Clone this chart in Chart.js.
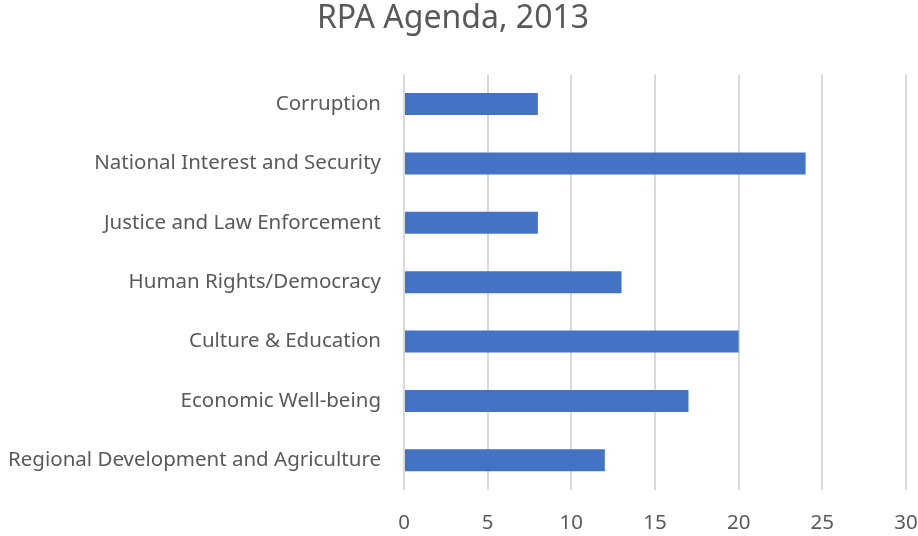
<!DOCTYPE html>
<html>
<head>
<meta charset="utf-8">
<script src="https://cdn.jsdelivr.net/npm/chart.js@4/dist/chart.umd.min.js"></script>
<style>
  html, body { margin: 0; padding: 0; background: #fff; }
  #wrap { width: 918px; height: 536px; }
</style>
</head>
<body>
<div id="wrap"><canvas id="agenda-chart" width="918" height="536"></canvas></div>
<script>
const categories = [
    'Corruption',
    'National Interest and Security',
    'Justice and Law Enforcement',
    'Human Rights/Democracy',
    'Culture & Education',
    'Economic Well-being',
    'Regional Development and Agriculture'
];
const counts = [8, 24, 8, 13, 20, 17, 12];
const xTicks = [0, 5, 10, 15, 20, 25, 30];

const labelFont = { family: "'Noto Sans', sans-serif", size: 20.5 };
const textColor = '#595959';

const ctx = document.getElementById('agenda-chart').getContext('2d');

new Chart(ctx, {
    type: 'bar',
    data: {
        labels: categories,
        datasets: [{
            data: counts,
            backgroundColor: '#4472c4',
            barPercentage: 0.37,
            categoryPercentage: 1.0
        }]
    },
    options: {
        indexAxis: 'y',
        responsive: false,
        animation: false,
        layout: { padding: { top: 0, right: 12, bottom: 0, left: 0 } },
        plugins: {
            legend: { display: false },
            tooltip: { enabled: false },
            title: {
                display: true,
                text: 'RPA Agenda, 2013',
                color: textColor,
                font: { family: "'Noto Sans', sans-serif", size: 32, weight: 'normal' },
                padding: { top: 0, bottom: 36 }
            }
        },
        scales: {
            x: {
                min: 0,
                max: 30,
                afterBuildTicks: function(scale) {
                    scale.ticks = xTicks.map(v => ({ value: v }));
                },
                afterFit: function(scale) {
                    // keep the plot edge fixed; the "30" label may hang past it
                    scale.height = 46;
                    scale.paddingLeft = 0;
                    scale.paddingRight = 0;
                },
                grid: { color: '#d9d9d9', lineWidth: 2, drawTicks: false },
                border: { display: false },
                ticks: { color: textColor, font: labelFont, padding: 21 }
            },
            y: {
                grid: { display: false },
                border: { display: false },
                ticks: { color: textColor, font: labelFont, padding: 15 },
                afterFit: function(scale) {
                    scale.width = 404;
                    scale.paddingTop = 0;
                    scale.paddingBottom = 0;
                }
            }
        }
    }
});
</script>
</body>
</html>
